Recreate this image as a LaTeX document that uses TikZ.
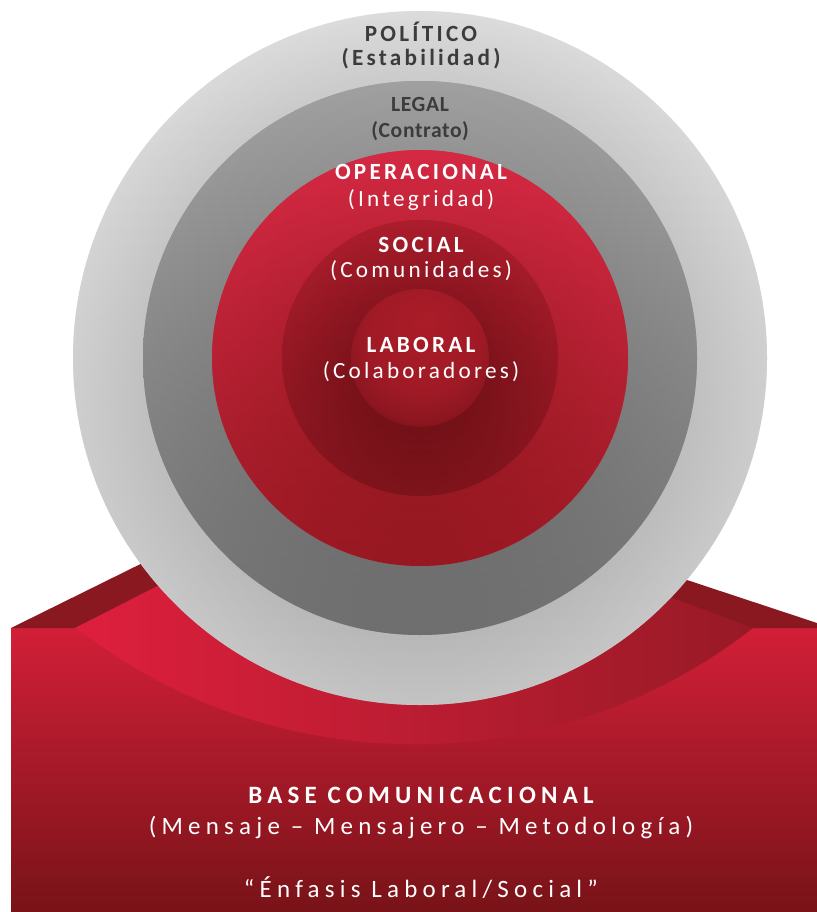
\documentclass[tikz,border=0pt]{standalone}
\usepackage{fontspec}
\setmainfont{Carlito}
\newfontfamily\spacedfont[LetterSpace=14]{Carlito}
\newfontfamily\widefont[LetterSpace=21]{Carlito}
\newfontfamily\legalfont[LetterSpace=3]{Carlito}
\usetikzlibrary{positioning}

\definecolor{labelgray}{HTML}{3C3C3C}
\definecolor{frontlight}{HTML}{D21F38}
\definecolor{frontdark}{HTML}{781318}
\definecolor{topface}{HTML}{8A1820}
\definecolor{bevellight}{HTML}{DE1F3D}
\definecolor{bevelmid}{HTML}{AC1C2B}
\definecolor{beveldark}{HTML}{981A26}
\definecolor{polin}{HTML}{B8B8B8}
\definecolor{polout}{HTML}{DCDCDC}
\definecolor{poltop}{HTML}{DCDCDC}
\definecolor{polbot}{HTML}{B4B4B4}
\definecolor{legin}{HTML}{727272}
\definecolor{legout}{HTML}{8A8A8A}
\definecolor{legtop}{HTML}{A8A8A8}
\definecolor{legbot}{HTML}{666666}
\definecolor{opin}{HTML}{A81C2A}
\definecolor{opout}{HTML}{CE2540}
\definecolor{optop}{HTML}{D82B45}
\definecolor{opbot}{HTML}{861418}
\definecolor{socin}{HTML}{640E13}
\definecolor{socout}{HTML}{A41C2A}
\definecolor{soctop}{HTML}{B21E2E}
\definecolor{socbot}{HTML}{6A0F14}
\definecolor{laba}{HTML}{AA1C28}
\definecolor{labb}{HTML}{A01A26}
\definecolor{labc}{HTML}{8C1620}
\definecolor{labd}{HTML}{5A0B0D}
\definecolor{labe}{HTML}{4C080A}

\pgfdeclareradialshading{politicoring}{\pgfpoint{0bp}{0bp}}{color(0bp)=(polin); color(20bp)=(polin); color(25bp)=(polout); color(50bp)=(polout)}
\pgfdeclareradialshading{legalring}{\pgfpoint{0bp}{0bp}}{color(0bp)=(legin); color(18.8bp)=(legin); color(25bp)=(legout); color(50bp)=(legout)}
\pgfdeclareradialshading{operring}{\pgfpoint{0bp}{0bp}}{color(0bp)=(opin); color(16.6bp)=(opin); color(25bp)=(opout); color(50bp)=(opout)}
\pgfdeclareradialshading{socialring}{\pgfpoint{0bp}{0bp}}{color(0bp)=(socin); color(12.5bp)=(socin); color(25bp)=(socout); color(50bp)=(socout)}
\pgfdeclareradialshading{laboraldisc}{\pgfpoint{2bp}{14bp}}{color(0bp)=(laba); color(20bp)=(labb); color(29bp)=(labc); color(36bp)=(labd); color(40bp)=(labe); color(50bp)=(labe)}

\tikzstyle{light} = [shading angle=-45, opacity=.75]
\tikzstyle{darktitle} = [text=labelgray, inner sep=0pt, anchor=base, font=\spacedfont\fontsize{13.2}{15}\selectfont\bfseries]
\tikzstyle{legaltitle} = [text=labelgray, inner sep=0pt, anchor=base, font=\legalfont\fontsize{12.3}{15}\selectfont\bfseries]
\tikzstyle{title} = [text=white, inner sep=0pt, anchor=base, font=\spacedfont\fontsize{13.2}{15}\selectfont\bfseries]
\tikzstyle{subtitle} = [text=white, inner sep=0pt, anchor=base, font=\spacedfont\fontsize{13.2}{15}\selectfont]
\tikzstyle{basetitle} = [text=white, inner sep=0pt, anchor=base, font=\widefont\fontsize{14.2}{17}\selectfont\bfseries]
\tikzstyle{basetext} = [text=white, inner sep=0pt, anchor=base, font=\widefont\fontsize{14.2}{17}\selectfont]

\begin{document}
\begin{tikzpicture}[x=0.02cm, y=-0.02cm]
\useasboundingbox (0,0) rectangle (817,912);
\coordinate (c) at (420,358);

% base
\shade[top color=frontlight, bottom color=frontdark] (11,628) rectangle (817,912);
\fill[topface] (11,628) -- (260,505) -- (560,538) -- (817,623) -- (817,628) -- cycle;
\shade[left color=bevellight, middle color=bevelmid, right color=beveldark]
  (75,628) -- (230,549) -- (600,571) -- (753,628) arc[start angle=52.05, end angle=127.95, radius=550] -- cycle;

% rings
\shade[shading=politicoring] (c) circle (347);
\shade[light, opacity=.6, top color=poltop, bottom color=polbot] (c) circle (347);
\shade[shading=legalring] (c) circle (277);
\shade[light, top color=legtop, bottom color=legbot] (c) circle (277);
\shade[shading=operring] (c) circle (208);
\shade[light, top color=optop, bottom color=opbot] (c) circle (208);
\shade[shading=socialring] (c) circle (138);
\shade[light, opacity=.65, top color=soctop, bottom color=socbot] (c) circle (138);
\shade[shading=laboraldisc] (c) circle (69);

% labels
\node[darktitle] (politico) at (421,42) {POLÍTICO};
\node[darktitle] (estabilidad) at ([yshift=-13.6pt]politico.base) {(Estabilidad)};
\node[legaltitle] (legal) at (420,112) {LEGAL};
\node[legaltitle] (contrato) at ([yshift=-14.7pt]legal.base) {(Contrato)};
\node[title] (operacional) at (421,180) {OPERACIONAL};
\node[subtitle] (integridad) at ([yshift=-15.3pt]operacional.base) {(Integridad)};
\node[title] (social) at (421,252) {SOCIAL};
\node[subtitle] (comunidades) at ([yshift=-14.7pt]social.base) {(Comunidades)};
\node[title] (laboral) at (421,352) {LABORAL};
\node[subtitle] (colaboradores) at ([yshift=-15.3pt]laboral.base) {(Colaboradores)};
\node[basetitle] (base) at (421,803) {BASE COMUNICACIONAL};
\node[basetext] (mensaje) at ([yshift=-18.1pt]base.base) {(Mensaje – Mensajero – Metodología)};
\node[basetext] (enfasis) at ([yshift=-35.7pt]mensaje.base) {“Énfasis Laboral/Social”};
\end{tikzpicture}
\end{document}
